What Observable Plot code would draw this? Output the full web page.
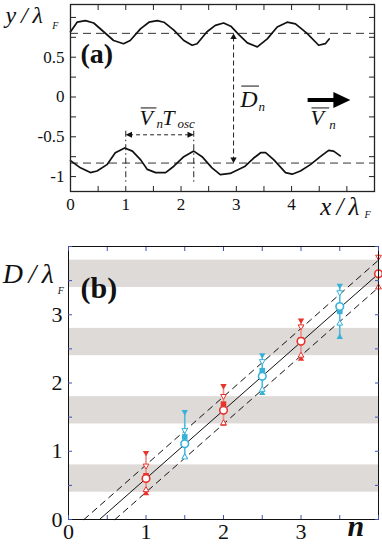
<!DOCTYPE html>
<html><head><meta charset="utf-8">
<script src="https://cdn.jsdelivr.net/npm/d3@7"></script>
<script src="https://cdn.jsdelivr.net/npm/@observablehq/plot@0.6"></script>
<style>
body{margin:0;background:#fff;}
#chart svg{display:block;}
</style></head><body><div id="chart"></div>
<script>
// ---------- Panel (a): droplet trajectories ----------
const upperX = [0, 0.12, 0.27, 0.42, 0.60, 0.78, 0.96, 1.08, 1.27, 1.42, 1.57, 1.69, 1.87, 2.05, 2.20, 2.29, 2.47, 2.62, 2.77, 2.90, 3.05, 3.20, 3.38, 3.56, 3.74, 3.92, 4.07, 4.28, 4.49, 4.61, 4.68];
const upperY = [0.82, 0.94, 0.96, 0.93, 0.82, 0.71, 0.67, 0.71, 0.86, 0.94, 0.96, 0.94, 0.84, 0.71, 0.65, 0.67, 0.82, 0.90, 0.93, 0.89, 0.78, 0.68, 0.63, 0.73, 0.88, 0.94, 0.92, 0.80, 0.65, 0.67, 0.73];
const lowerX = [0, 0.18, 0.36, 0.48, 0.66, 0.81, 0.98, 1.12, 1.27, 1.39, 1.54, 1.72, 1.87, 2.05, 2.23, 2.38, 2.56, 2.71, 2.89, 3.16, 3.31, 3.44, 3.53, 3.68, 3.89, 4.01, 4.16, 4.34, 4.52, 4.67, 4.76, 4.88];
const lowerY = [-0.80, -0.89, -0.95, -0.93, -0.85, -0.70, -0.64, -0.68, -0.79, -0.91, -0.95, -0.95, -0.87, -0.75, -0.68, -0.75, -0.89, -0.975, -0.96, -0.87, -0.77, -0.70, -0.70, -0.79, -0.95, -0.97, -0.93, -0.85, -0.75, -0.67, -0.68, -0.74];
const meanLevels = [0.80, -0.83];          // mean lateral positions (dashed)
const periodX = [1.0, 2.23];               // successive crests of the lower trajectory
const xTickLabelsA = [0, 1, 2, 3, 4];
const yTickLabelsA = [0.5, 0, -0.5, -1];

// ---------- Panel (b): D vs n ----------
const nValues   = [1, 1.5, 2, 2.5, 3, 3.5, 4];
const regime    = ["integer", "half", "integer", "half", "integer", "half", "integer"];
const meanD     = [0.60, 1.11, 1.60, 2.10, 2.61, 3.12, 3.60];
const squareD   = [0.64, 1.21, 1.69, 2.18, 2.63, 3.05, null];
const openDownD = [0.78, 1.30, 1.80, 2.31, 2.82, 3.32, 3.84];
const filledDownD = [0.97, 1.57, 1.95, 2.40, 2.91, 3.42, null];
const openUpD   = [0.44, 0.92, 1.42, 1.91, 2.41, 2.88, 3.41];
const filledUpD = [0.39, 0.93, 1.41, 1.86, 2.36, 2.68, null];
const bandLow  = [0.4, 1.4, 2.4, 3.4];
const bandHigh = [0.8, 1.8, 2.8, 3.8];
const fitN = [0.4, 4],  fitD = [0, 3.6];
const fitUpN = [0.2, 4], fitUpD = [0, 3.8];
const fitLoN = [0.6, 4], fitLoD = [0, 3.4];
const xTickLabelsB = [0, 1, 2, 3];
const yTickLabelsB = [0, 1, 2, 3];

// ---------- helpers ----------
const zip = (xs, ys) => xs.map((x, i) => ({x, y: ys[i]}));
function sym(f) { return {draw(ctx, size) { const r = Math.sqrt(size / Math.PI); f(ctx, r); }}; }
const triDown  = sym((c, r) => { c.moveTo(-r, -r * 0.75); c.lineTo(r, -r * 0.75); c.lineTo(0, r * 0.95); c.closePath(); });
const triUp    = sym((c, r) => { c.moveTo(-r, r * 0.75); c.lineTo(r, r * 0.75); c.lineTo(0, -r * 0.95); c.closePath(); });
const triRight = sym((c, r) => { c.moveTo(r, 0); c.lineTo(-r, -r * 0.95); c.lineTo(-r, r * 0.95); c.closePath(); });
const triLeft  = sym((c, r) => { c.moveTo(-r, 0); c.lineTo(r, -r * 0.95); c.lineTo(r, r * 0.95); c.closePath(); });
const squareSym = sym((c, r) => { c.rect(-r, -r, 2 * r, 2 * r); });

const SERIF = "Liberation Serif, Times New Roman, serif";
const RED = "#e8342c", RED_BAR = "#f18b86";
const CYAN = "#38b1d8", CYAN_BAR = "#4cb9dd";
const col = d => d.regime === "integer" ? RED : CYAN;
const barCol = d => d.regime === "integer" ? RED_BAR : CYAN_BAR;
const TS = "\u2009"; // thin space

// ---------- Panel (a) ----------
const ticksXA = d3.range(0, 5.51, 0.5);
const ticksYA = d3.range(-1, 1.01, 0.25);
const txt = (t, x, y, o = {}) => Plot.text([t], {x: () => x, y: () => y, text: d => d, textAnchor: "start", lineAnchor: "bottom", fontFamily: SERIF, fill: "#111", ...o});

const plotA = Plot.plot({
  width: 382, height: 222,
  marginLeft: 70, marginRight: 8, marginTop: 4, marginBottom: 31,
  x: {domain: [0, 5.5], axis: null},
  y: {domain: [-1.1875, 1.1625], axis: null},
  style: {fontFamily: SERIF, fontSize: "17px", color: "#111", background: "#fff", overflow: "visible"},
  marks: [
    Plot.ruleY(meanLevels, {stroke: "#333", strokeWidth: 1, strokeDasharray: "8,5"}),
    Plot.line(zip(upperX, upperY), {x: "x", y: "y", stroke: "#111", strokeWidth: 1.7}),
    Plot.line(zip(lowerX, lowerY), {x: "x", y: "y", stroke: "#111", strokeWidth: 1.7}),
    // period markers (dash-dot)
    Plot.ruleX(periodX, {x: d => d, y1: -0.43, y2: -1.07, stroke: "#222", strokeWidth: 1, strokeDasharray: "6,3,1.5,3"}),
    // horizontal double arrow (V_n T_osc)
    Plot.link([periodX], {x1: d => d[0] + 0.06, x2: d => d[1] - 0.06, y1: -0.475, y2: -0.475, stroke: "#222", strokeWidth: 1, strokeDasharray: "4,3"}),
    Plot.dot([periodX[0]], {x: d => d + 0.055, y: () => -0.475, symbol: triLeft, r: 3.2, fill: "#111", stroke: "none"}),
    Plot.dot([periodX[1]], {x: d => d - 0.055, y: () => -0.475, symbol: triRight, r: 3.2, fill: "#111", stroke: "none"}),
    // vertical double arrow (D_n)
    Plot.link([meanLevels], {x1: () => 2.95, x2: () => 2.95, y1: d => d[0] - 0.04, y2: d => d[1] + 0.04, stroke: "#222", strokeWidth: 1, strokeDasharray: "5,3"}),
    Plot.dot([meanLevels[0]], {x: () => 2.95, y: d => d - 0.04, symbol: triUp, r: 3.2, fill: "#111", stroke: "none"}),
    Plot.dot([meanLevels[1]], {x: () => 2.95, y: d => d + 0.04, symbol: triDown, r: 3.2, fill: "#111", stroke: "none"}),
    // direction arrow
    Plot.link([0], {x1: () => 4.29, x2: () => 4.82, y1: () => -0.0375, y2: () => -0.0375, stroke: "#000", strokeWidth: 4}),
    Plot.dot([0], {x: () => 4.91, y: () => -0.0375, symbol: triRight, r: 8.5, fill: "#000", stroke: "none"}),
    // frame and ticks
    Plot.frame({stroke: "#222", strokeWidth: 1.3}),
    Plot.axisX({anchor: "bottom", ticks: ticksXA, tickSize: -5, tickFormat: () => "", label: null, stroke: "#222"}),
    Plot.axisX({anchor: "top", ticks: ticksXA, tickSize: -5, tickFormat: () => "", label: null, stroke: "#222"}),
    Plot.axisY({anchor: "left", ticks: ticksYA, tickSize: -6, tickFormat: () => "", label: null, stroke: "#222"}),
    Plot.axisY({anchor: "right", ticks: ticksYA, tickSize: -6, tickFormat: () => "", label: null, stroke: "#222"}),
    Plot.axisX({anchor: "bottom", ticks: xTickLabelsA, tickSize: 0, tickPadding: 6, tickFormat: d => String(d), label: null, fill: "#111"}),
    Plot.axisY({anchor: "left", ticks: yTickLabelsA, tickSize: 0, tickPadding: 6, tickFormat: d => String(d), label: null, fill: "#111"}),
    // texts
    txt("(a)", 0.18, 0.425, {fontSize: 28, fontWeight: "bold"}),
    txt("y" + TS + "/" + TS + "λ", -1.175, 0.93, {fontSize: 24, fontStyle: "italic"}),
    txt("F", -0.33, 0.86, {fontSize: 10, fontStyle: "italic"}),
    txt("x" + TS + "/" + TS + "λ", 4.52, -1.4875, {fontSize: 25, fontStyle: "italic"}),
    txt("F", 5.32, -1.525, {fontSize: 10, fontStyle: "italic"}),
    txt("D", 3.07, -0.125, {fontSize: 24, fontStyle: "italic"}),
    txt("n", 3.40, -0.175, {fontSize: 13, fontStyle: "italic"}),
    Plot.link([0], {x1: () => 3.09, x2: () => 3.41, y1: () => 0.1375, y2: () => 0.1375, stroke: "#111", strokeWidth: 1}),
    txt("V", 4.34, -0.35, {fontSize: 22, fontStyle: "italic"}),
    txt("n", 4.68, -0.40, {fontSize: 13, fontStyle: "italic"}),
    Plot.link([0], {x1: () => 4.36, x2: () => 4.68, y1: () => -0.1375, y2: () => -0.1375, stroke: "#111", strokeWidth: 1}),
    txt("V", 1.25, -0.35, {fontSize: 22, fontStyle: "italic"}),
    txt("n", 1.555, -0.39, {fontSize: 13, fontStyle: "italic"}),
    txt("T", 1.66, -0.35, {fontSize: 22, fontStyle: "italic"}),
    txt("osc", 1.935, -0.39, {fontSize: 13, fontStyle: "italic"}),
    Plot.link([0], {x1: () => 1.27, x2: () => 1.555, y1: () => -0.1375, y2: () => -0.1375, stroke: "#111", strokeWidth: 1})
  ]
});

// ---------- Panel (b) ----------
const rows = nValues.map((n, i) => ({
  n, regime: regime[i], mean: meanD[i], sq: squareD[i], od: openDownD[i], fd: filledDownD[i], ou: openUpD[i], fu: filledUpD[i]
}));
const ticksB = d3.range(0, 4.01, 0.5);
const TICKB = "#4050b0";

const plotB = Plot.plot({
  width: 382, height: 323,
  marginLeft: 68, marginRight: 4, marginTop: 24, marginBottom: 26,
  x: {domain: [0, 4], axis: null},
  y: {domain: [0, 4], axis: null},
  color: {type: "identity"},
  style: {fontFamily: SERIF, fontSize: "22px", color: "#111", background: "#fff", overflow: "visible"},
  marks: [
    Plot.rect(bandLow.map((lo, i) => ({lo, hi: bandHigh[i]})), {y1: "lo", y2: "hi", fill: "#dedad7"}),
    Plot.line(zip(fitUpN, fitUpD), {x: "x", y: "y", stroke: "#111", strokeWidth: 1, strokeDasharray: "6,5"}),
    Plot.line(zip(fitLoN, fitLoD), {x: "x", y: "y", stroke: "#111", strokeWidth: 1, strokeDasharray: "6,5"}),
    Plot.line(zip(fitN, fitD), {x: "x", y: "y", stroke: "#111", strokeWidth: 1}),
    Plot.ruleX(rows.filter(d => d.fd != null), {x: "n", y1: "fu", y2: "fd", stroke: barCol, strokeWidth: 1.6}),
    Plot.dot(rows.filter(d => d.fd != null), {x: "n", y: "fd", symbol: triDown, r: 3.2, fill: col, stroke: "none"}),
    Plot.dot(rows.filter(d => d.fu != null), {x: "n", y: "fu", symbol: triUp, r: 3.2, fill: col, stroke: "none"}),
    Plot.dot(rows.filter(d => d.sq != null), {x: "n", y: "sq", symbol: squareSym, r: 2.8, fill: col, stroke: "none"}),
    Plot.dot(rows, {x: "n", y: "od", symbol: triDown, r: 2.9, fill: "#fff", stroke: col, strokeWidth: 1}),
    Plot.dot(rows, {x: "n", y: "ou", symbol: triUp, r: 2.9, fill: "#fff", stroke: col, strokeWidth: 1}),
    Plot.dot(rows, {x: "n", y: "mean", r: 3.8, fill: "#fff", stroke: col, strokeWidth: 1.6}),
    Plot.frame({stroke: "#111", strokeWidth: 1}),
    Plot.axisX({anchor: "bottom", ticks: ticksB, tickSize: -4, tickFormat: () => "", label: null, stroke: TICKB}),
    Plot.axisX({anchor: "top", ticks: ticksB, tickSize: -4, tickFormat: () => "", label: null, stroke: TICKB}),
    Plot.axisY({anchor: "left", ticks: ticksB, tickSize: -4, tickFormat: () => "", label: null, stroke: TICKB}),
    Plot.axisY({anchor: "right", ticks: ticksB, tickSize: -4, tickFormat: () => "", label: null, stroke: TICKB}),
    Plot.axisX({anchor: "bottom", ticks: xTickLabelsB, tickSize: 0, tickPadding: 4, tickFormat: d => String(d), label: null, fill: "#111"}),
    Plot.axisY({anchor: "left", ticks: yTickLabelsB, tickSize: 0, tickPadding: 6, tickFormat: d => String(d), label: null, fill: "#111"}),
    txt("(b)", 0.155, 3.25, {fontSize: 30, fontWeight: "bold"}),
    txt("D" + TS + "/" + TS + "λ", -0.85, 3.47, {fontSize: 28, fontStyle: "italic"}),
    txt("F", -0.14, 3.30, {fontSize: 10, fontStyle: "italic"}),
    txt("n", 3.60, -0.24, {fontSize: 30, fontStyle: "italic", fontWeight: "bold"})
  ]
});

const root = document.getElementById("chart");
root.append(plotA, plotB);
</script></body></html>
